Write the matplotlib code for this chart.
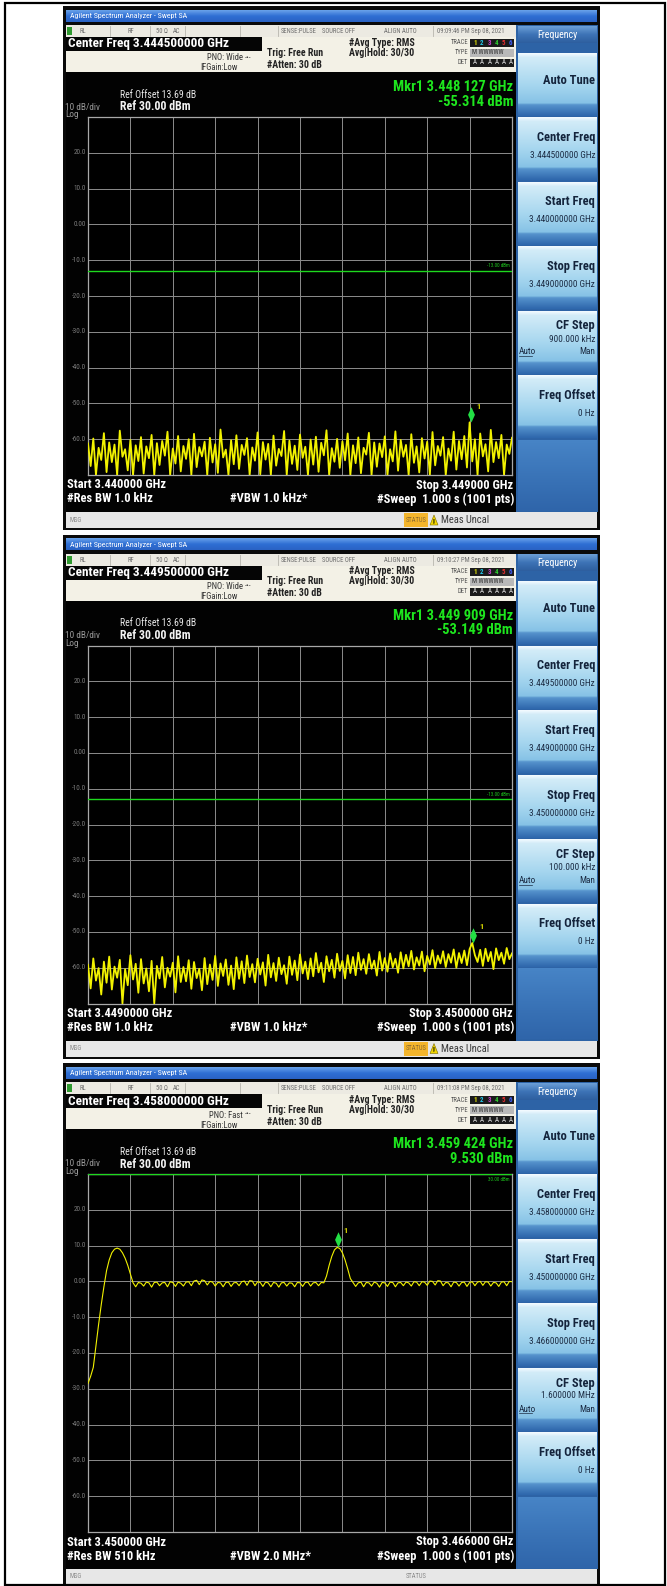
import numpy as np
import matplotlib.pyplot as plt
from matplotlib import font_manager
from matplotlib.patches import Rectangle, Polygon
from matplotlib.path import Path
from matplotlib.colors import LinearSegmentedColormap

# the analyser font is narrow; use a condensed family when one is installed
installed = {f.name for f in font_manager.fontManager.ttflist}
narrow = [n for n in ['Liberation Sans Narrow', 'Roboto Condensed', 'Open Sans Condensed'] if n in installed]
if narrow:
    plt.rcParams['font.family'] = [narrow[0], 'Liberation Sans', 'DejaVu Sans']
    fs = 1.0 if narrow[0] == 'Liberation Sans Narrow' else 0.95
else:
    plt.rcParams['font.family'] = ['Liberation Sans', 'DejaVu Sans']
    fs = 0.85

# screen settings (one entry per screenshot)
times = ['09:09:46 PM Sep 08, 2021', '09:10:27 PM Sep 08, 2021', '09:11:08 PM Sep 08, 2021']
center_labels = ['3.444500000 GHz', '3.449500000 GHz', '3.458000000 GHz']
start_ghz = [3.440, 3.449, 3.450]
stop_ghz = [3.449, 3.450, 3.466]
start_labels = ['3.440000 GHz', '3.4490000 GHz', '3.450000 GHz']
stop_labels = ['3.449000 GHz', '3.4500000 GHz', '3.466000 GHz']
startkey_labels = ['3.440000000 GHz', '3.449000000 GHz', '3.450000000 GHz']
stopkey_labels = ['3.449000000 GHz', '3.450000000 GHz', '3.466000000 GHz']
cfstep_labels = ['900.000 kHz', '100.000 kHz', '1.600000 MHz']
pno_labels = ['Wide', 'Wide', 'Fast']
rbw_labels = ['1.0 kHz', '1.0 kHz', '510 kHz']
vbw_labels = ['1.0 kHz', '1.0 kHz', '2.0 MHz']
mkr_ghz = [3.448127, 3.449909, 3.459424]
mkr_dbm = [-55.314, -53.149, 9.530]
mkr_freq_labels = ['3.448 127 GHz', '3.449 909 GHz', '3.459 424 GHz']
mkr_ampl_labels = ['-55.314 dBm', '-53.149 dBm', '9.530 dBm']
dl_dbm = [-13.0, -13.0, 30.0]
dl_labels = ['-13.00 dBm', '-13.00 dBm', '30.00 dBm']
meas_uncal = [True, True, False]
ref_dbm = 30.0
bottom_dbm = -70.0
ytick_vals = [20, 10, 0, -10, -20, -30, -40, -50, -60]
ytick_labels = ['20.0', '10.0', '0.00', '-10.0', '-20.0', '-30.0', '-40.0', '-50.0', '-60.0']

# traces (161 points across each span)
trace1 = [
    -61.2, -67.5, -59.8, -70.0, -62.4, -65.8, -58.3, -69.2, -60.9, -66.4, -61.5, -70.0, -57.6, -64.9, -62.8, -68.7, -60.2, -70.0, -61.7, -66.1,
    -59.4, -69.6, -62.0, -65.3, -58.8, -70.0, -61.1, -67.2, -60.5, -64.6, -57.9, -70.0, -62.6, -66.8, -59.1, -69.0, -61.9, -65.5, -60.0, -70.0,
    -58.5, -67.8, -62.2, -64.8, -60.7, -70.0, -59.6, -66.5, -61.4, -69.4, -57.3, -65.1, -62.9, -70.0, -60.3, -67.0, -58.9, -68.3, -61.6, -64.4,
    -59.7, -70.0, -62.3, -66.0, -58.1, -69.8, -60.8, -65.7, -61.3, -70.0, -59.0, -67.4, -62.7, -64.7, -57.7, -70.0, -60.4, -66.9, -61.8, -68.6,
    -58.7, -65.2, -62.1, -70.0, -60.1, -67.1, -59.3, -69.1, -61.0, -64.5, -57.5, -70.0, -62.5, -66.3, -59.9, -68.0, -60.6, -65.9, -58.4, -70.0,
    -61.7, -66.7, -59.5, -69.5, -62.4, -64.3, -58.2, -70.0, -60.9, -67.7, -61.2, -65.0, -59.2, -70.0, -62.8, -66.2, -57.8, -68.8, -60.2, -64.9,
    -61.6, -70.0, -58.6, -66.6, -62.0, -69.3, -59.7, -65.4, -60.7, -70.0, -58.0, -67.3, -61.9, -64.6, -59.4, -70.0, -62.6, -66.0, -57.9, -68.5,
    -60.5, -65.6, -59.1, -67.9, -55.3, -66.2, -60.0, -70.0, -58.4, -64.8, -61.4, -69.0, -57.4, -66.4, -60.8, -65.3, -58.8, -70.0, -61.5, -64.1,
    -59.6,
]
trace2 = [
    -59.2, -65.8, -57.4, -63.6, -60.1, -67.5, -58.3, -64.2, -56.9, -66.1, -59.7, -62.8, -57.8, -70.0, -60.4, -64.9, -56.5, -63.3, -58.9, -67.0,
    -57.6, -64.4, -60.2, -66.6, -58.1, -70.0, -59.5, -63.0, -57.0, -65.5, -60.0, -62.5, -58.6, -66.9, -56.8, -64.0, -59.8, -63.8, -57.9, -65.9,
    -58.4, -62.9, -60.3, -66.3, -57.3, -64.6, -59.1, -63.4, -56.7, -65.1, -58.8, -62.3, -57.7, -64.8, -59.4, -66.0, -57.1, -63.1, -58.2, -64.3,
    -56.6, -62.6, -59.0, -64.1, -57.5, -61.9, -58.5, -65.0, -56.4, -62.7, -58.7, -63.7, -57.2, -61.8, -59.3, -64.5, -56.9, -62.0, -58.0, -63.5,
    -56.3, -61.6, -58.3, -63.2, -57.4, -62.4, -55.9, -61.3, -58.6, -64.0, -56.8, -61.0, -57.8, -62.8, -56.1, -60.9, -58.1, -63.0, -56.5, -61.5,
    -57.0, -62.1, -55.8, -60.6, -57.6, -61.7, -56.2, -60.3, -58.0, -62.2, -55.6, -60.8, -57.3, -61.1, -56.0, -59.9, -57.5, -61.4, -55.7, -60.2,
    -56.4, -59.6, -55.3, -60.5, -57.1, -59.4, -55.5, -61.0, -56.7, -59.1, -55.1, -60.1, -56.6, -58.8, -55.4, -59.8, -56.2, -58.6, -54.9, -60.0,
    -55.9, -58.7, -55.2, -59.3, -54.8, -53.1, -56.5, -58.4, -55.0, -59.5, -54.7, -58.2, -55.6, -60.4, -54.6, -57.9, -55.8, -58.9, -54.5, -57.6,
    -56.0,
]
trace3 = [
    -28.5, -26.5, -24.0, -18.0, -12.0, -6.5, -1.5, 3.0, 6.0, 8.0, 9.0, 9.3, 9.0, 8.0, 6.5, 4.5, 2.0,
    -0.4, -1.5, -0.3, -0.5, -1.3, -0.2, -0.4, -1.6, -0.3, -0.2, -1.2, -0.4, -0.3, -1.5, -0.1, -0.3, -1.4, -0.2, -0.5, -1.3,
    -0.2, -0.1, -1.2, 0.1, 0.3, -0.9, 0.4, 0.2, -1.0, 0.0, -0.2, -1.3, -0.3, -0.4, -1.5, -0.3, -0.2, -1.4, -0.4, -0.3,
    -1.2, -0.1, 0.1, -1.1, 0.2, 0.1, -1.2, -0.1, -0.3, -1.4, -0.2, -0.4, -1.5, -0.3, -0.5, -1.6, -0.4, -0.3, -1.3, -0.4,
    -0.5, -1.5, -0.3, -0.4, -1.4, -0.3, -0.2, -1.3, -0.4, -0.3, -1.2, -0.3, -0.4,
    1.5, 4.5, 7.0, 8.8, 9.5, 9.2, 8.0, 6.0, 3.5, 0.8,
    -0.3, -1.4, -0.4, -0.2, -1.5, -0.3, -0.4, -1.3, -0.2, -0.5, -1.6, -0.3, -0.4, -1.4, -0.2, -0.3, -1.5, -0.4, -0.3, -1.2,
    -0.2, -0.4, -1.3, -0.1, -0.2, -1.2, -0.1, -0.2, -1.1, 0.1, 0.0, -1.0, 0.2, 0.1, -1.2, -0.3, -0.4, -1.5, -0.2, -0.3,
    -1.3, -0.3, -0.2, -1.4, -0.3, -0.1, -1.2, -0.2, 0.0, -1.1, -0.1, -0.2, -1.3, -0.3, -0.4, -1.4, -0.2, -0.1, -1.2, 0.0,
    -0.1,
]
traces = [trace1, trace2, trace3]

W, H = 667, 1586
fig = plt.figure(figsize=(W / 100, H / 100), dpi=100)
fig.patch.set_facecolor('white')
bg = fig.add_axes([0, 0, 1, 1])
bg.set_axis_off()


def rect(x0, y0, x1, y1, color, z=1, **kw):
    bg.add_patch(Rectangle((x0, y0), x1 - x0, y1 - y0, facecolor=color, edgecolor='none', zorder=z, **kw))


def grad(x0, y0, x1, y1, stops, z=2):
    cm = LinearSegmentedColormap.from_list('g', stops)
    bg.imshow(np.linspace(0, 1, 64).reshape(-1, 1), cmap=cm, extent=(x0, x1, y1, y0),
              aspect='auto', interpolation='bilinear', zorder=z)


def txt(x, y, s, size=7, color='white', weight='normal', ha='left', z=5, **kw):
    bg.text(x, y, s, fontsize=size * fs, color=color, fontweight=weight, ha=ha, va='center', zorder=z, **kw)


key_stops = [(0, '#f2faff'), (0.06, '#d3ecf8'), (0.55, '#a2d4ee'), (0.8, '#86c2e6'),
             (0.83, '#5592cc'), (1, '#2f68ad')]

tops = [10, 538.5, 1067]
for k, T in enumerate(tops):
    # frame and title bar
    rect(63, T - 4, 600, T + 520, '#0a0a0a', z=1)
    grad(66, T, 597, T + 12, ['#6aa3ea', '#2f6fd4', '#2a63c4'])
    txt(70, T + 6, 'Agilent Spectrum Analyzer - Swept SA', size=6, color='white')

    # status row
    rect(66, T + 15, 516, T + 27, '#eceae2', z=2)
    for xs in [110, 150, 185, 240, 278, 433]:
        bg.plot([xs, xs], [T + 16, T + 26], color='#b8b6ae', lw=0.6, zorder=3)
    rect(67, T + 17, 72, T + 25, '#2f9a2f', z=3)
    for xs, s in [(80, 'RL'), (127, 'RF'), (156, '50 \u03a9'), (173, 'AC'), (281, 'SENSE:PULSE'),
                  (322, 'SOURCE OFF'), (384, 'ALIGN AUTO'), (437, times[k])]:
        txt(xs, T + 21.5, s, size=5, color='#6e6e6e')

    # setup area
    rect(66, T + 27, 516, T + 62, '#f3f1e6', z=2)
    rect(66, T + 27, 262, T + 41, '#050505', z=3)
    txt(68, T + 34, 'Center Freq ' + center_labels[k], size=10, weight='bold')
    txt(243, T + 48, 'PNO: ' + pno_labels[k], size=6.5, color='#333333', ha='right')
    txt(245, T + 47.5, '-\u2022-', size=6, color='#333333')
    txt(200, T + 58, 'IFGain:Low', size=6.5, color='#333333')
    txt(267, T + 43, 'Trig: Free Run', size=7.5, color='#222222', weight='bold')
    txt(267, T + 55, '#Atten: 30 dB', size=7.5, color='#222222', weight='bold')
    txt(349, T + 33, '#Avg Type: RMS', size=7.5, color='#222222', weight='bold')
    txt(349, T + 43, 'Avg|Hold: 30/30', size=7.5, color='#222222', weight='bold')
    txt(468, T + 33, 'TRACE', size=5, color='#555555', ha='right')
    txt(468, T + 43, 'TYPE', size=5, color='#555555', ha='right')
    txt(468, T + 53, 'DET', size=5, color='#555555', ha='right')
    rect(470, T + 29, 514, T + 37, '#1b1b1b', z=3)
    rect(470, T + 39, 514, T + 47, '#b9b9b9', z=3)
    rect(470, T + 49, 514, T + 57, '#1b1b1b', z=3)
    for j, c in enumerate(['#e8e800', '#22c8e8', '#d040d0', '#30d030', '#e83030', '#4060ff']):
        txt(473 + j * 7.2, T + 33, str(j + 1), size=5.2, color=c, weight='bold')
        txt(473 + j * 7.2, T + 53, 'A', size=5.2, color='#e0e0e0')
    txt(472, T + 43, 'M WWWWW', size=5, color='#333333')

    # display area texts
    rect(66, T + 62, 516, T + 502, '#020202', z=2)
    txt(120, T + 85, 'Ref Offset 13.69 dB', size=7.5, color='#e6e6e6')
    txt(120, T + 97, 'Ref 30.00 dBm', size=9, weight='bold', color='#f2f2f2')
    txt(65, T + 97, '10 dB/div', size=7, color='#9a9a9a')
    txt(65, T + 104.5, 'Log', size=7, color='#9a9a9a')
    txt(513, T + 77, 'Mkr1 ' + mkr_freq_labels[k], size=11, weight='bold', color='#1ee61e', ha='right')
    txt(513, T + 92, mkr_ampl_labels[k], size=11, weight='bold', color='#1ee61e', ha='right')
    txt(67, T + 475, 'Start ' + start_labels[k], size=9.5, weight='bold')
    txt(513, T + 475, 'Stop ' + stop_labels[k], size=9.5, weight='bold', ha='right')
    txt(67, T + 489, '#Res BW ' + rbw_labels[k], size=9.5, weight='bold')
    txt(230, T + 489, '#VBW ' + vbw_labels[k] + '*', size=9.5, weight='bold')
    txt(514, T + 489, '#Sweep  1.000 s (1001 pts)', size=9.5, weight='bold', ha='right')
    for v, lab in zip(ytick_vals, ytick_labels):
        yy = T + 107 + (ref_dbm - v) / (ref_dbm - bottom_dbm) * 358
        txt(86, yy, lab, size=5.4, color='#7c7c7c', ha='right')

    # message bar
    rect(66, T + 502, 597, T + 518, '#e7e7e7', z=2)
    txt(69, T + 510, 'MSG', size=5, color='#8a8a8a')
    rect(404, T + 503, 428, T + 517, '#f4b52c' if meas_uncal[k] else '#e7e7e7', z=3)
    txt(416, T + 510, 'STATUS', size=5, color='#8a6a30' if meas_uncal[k] else '#8a8a8a', ha='center')
    if meas_uncal[k]:
        bg.add_patch(Polygon([[430, T + 515], [438, T + 515], [434, T + 505]], closed=True,
                             facecolor='#f2d600', edgecolor='#7a6a00', lw=0.4, zorder=4))
        txt(434, T + 511.5, '!', size=5, color='black', ha='center', weight='bold')
        txt(441, T + 510, 'Meas Uncal', size=8, color='#3a3a3a')

    # softkeys
    rect(516, T + 15, 598, T + 502, '#2d63a6', z=2)
    grad(518, T + 16, 597, T + 33, ['#6c9fd6', '#3d73b6', '#2e5f9f'])
    txt(557, T + 25, 'Frequency', size=7.5, color='white', ha='center')
    keys = [('Auto Tune', None), ('Center Freq', center_labels[k]), ('Start Freq', startkey_labels[k]),
            ('Stop Freq', stopkey_labels[k]), ('CF Step', cfstep_labels[k]), ('Freq Offset', '0 Hz')]
    for j, (lab, val) in enumerate(keys):
        y0 = T + 43 + j * 64.5
        grad(518, y0, 597, y0 + 63, key_stops, z=3)
        if val is None:
            txt(595, y0 + 27, lab, size=9.5, weight='bold', color='#14243c', ha='right')
        elif lab == 'CF Step':
            txt(595, y0 + 15, lab, size=9.5, weight='bold', color='#14243c', ha='right')
            txt(595, y0 + 28, val, size=7, color='#1c2c44', ha='right')
            txt(519, y0 + 41, 'Auto', size=7, color='#1c2c44', ha='left')
            bg.plot([519, 532], [y0 + 45, y0 + 45], color='#1c2c44', lw=0.5, zorder=5)
            txt(595, y0 + 41, 'Man', size=7, color='#1c2c44', ha='right')
        else:
            txt(595, y0 + 20, lab, size=9.5, weight='bold', color='#14243c', ha='right')
            txt(595, y0 + 38, val, size=7, color='#1c2c44', ha='right')
    grad(518, T + 430, 597, T + 501, ['#4784c6', '#3a74b8', '#2f65aa'], z=3)

    # graticule with trace
    gy0, gy1 = T + 107, T + 465
    ax = fig.add_axes([88 / W, 1 - gy1 / H, 424 / W, (gy1 - gy0) / H])
    ax.set_facecolor('black')
    ax.set_xlim(start_ghz[k], stop_ghz[k])
    ax.set_ylim(bottom_dbm, ref_dbm)
    ax.set_xticks(np.linspace(start_ghz[k], stop_ghz[k], 11))
    ax.set_yticks(np.arange(bottom_dbm, ref_dbm + 1, 10))
    ax.tick_params(length=0, labelbottom=False, labelleft=False)
    ax.grid(True, color='#8c8c8c', lw=0.7)
    for sp in ax.spines.values():
        sp.set_color('#a8a8a8')
        sp.set_linewidth(0.9)
    freqs = np.linspace(start_ghz[k], stop_ghz[k], len(traces[k]))
    ax.plot(freqs, traces[k], color='#f2f200', lw=1.3 if k < 2 else 0.8, zorder=3)
    ax.axhline(dl_dbm[k], color='#1ed81e', lw=1.0, zorder=4)
    if dl_dbm[k] < ref_dbm:
        ax.text(0.995, dl_dbm[k] + 0.8, dl_labels[k], transform=ax.get_yaxis_transform(),
                fontsize=3.6, color='#1ec81e', ha='right', va='bottom')
    else:
        ax.text(0.995, dl_dbm[k] - 0.8, dl_labels[k], transform=ax.get_yaxis_transform(),
                fontsize=3.6, color='#1ec81e', ha='right', va='top')
    tip = Path([(0, 0), (0.45, 1), (0, 2), (-0.45, 1), (0, 0)],
               [Path.MOVETO, Path.LINETO, Path.LINETO, Path.LINETO, Path.CLOSEPOLY])
    ax.plot([mkr_ghz[k]], [mkr_dbm[k]], marker=tip, markersize=22, color='#22e044',
            markeredgewidth=0, zorder=5, clip_on=False)
    ax.annotate('1', (mkr_ghz[k], mkr_dbm[k]), xytext=(4, 10), textcoords='offset points',
                fontsize=6, color='#d8d800', fontweight='bold', annotation_clip=False)

# outer table border
bg.add_patch(Rectangle((5, 2.5), 660, 1582, facecolor='none', edgecolor='black', lw=1.6, zorder=6))

bg.set_xlim(0, W)
bg.set_ylim(H, 0)
fig.savefig('out.png', dpi=100, facecolor='white')
